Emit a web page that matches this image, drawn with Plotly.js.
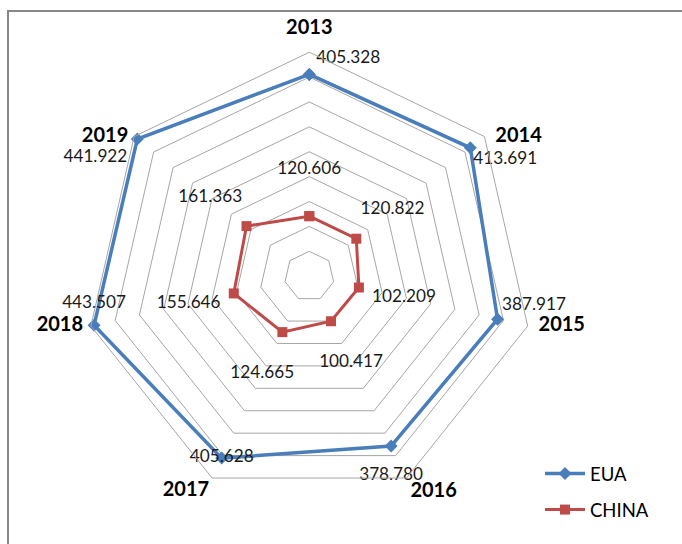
<!DOCTYPE html>
<html>
<head>
<meta charset="utf-8">
<script src="https://cdn.plot.ly/plotly-3.0.1.min.js"></script>
<style>html,body{margin:0;padding:0;background:#fff;}#chart{width:682px;height:544px;}</style>
</head>
<body>
<div id="chart"></div>
<script>
// ---- data ----
const years = ['2013', '2014', '2015', '2016', '2017', '2018', '2019'];
const euaValues = [405.328, 413.691, 387.917, 378.780, 405.628, 443.507, 441.922];
const chinaValues = [120.606, 120.822, 102.209, 100.417, 124.665, 155.646, 161.363];
const seriesNames = ['EUA', 'CHINA'];

// ---- styling ----
const W = 682, H = 544;
const cx = 309.3, cy = 276.2, R = 224;
const rMax = 450;
const fmt = v => v.toFixed(3);
const FONT = 'Lato, "Open Sans", sans-serif';
const labelFont = {family: FONT, size: 17.2, color: '#1a1a1a'};
const euaPos = ['top right', 'bottom right', 'top right', 'bottom center', 'middle center', 'top center', 'bottom left'];
const euaLabelGap = [9.6, 3.2, 5.6, 32, 10, 19.2, 14.4];     // invisible marker sizes setting label gaps
const catPos = ['top center', 'middle right', 'middle right', 'bottom right', 'bottom left', 'middle left', 'middle left'];
const catLabelGap = [20, 16, 16, 4.8, 3.2, 11.2, 8];
const chinaLabelOffset = 93;      // radial units beyond each point

const closeArr = a => a.concat([a[0]]);
const dom = {x: [(cx - R) / W, (cx + R) / W], y: [(H - cy - R) / H, (H - cy + R) / H]};

const traces = [
  {
    type: 'scatterpolar', name: seriesNames[0], legendgroup: 'a',
    r: closeArr(euaValues), theta: closeArr(years),
    mode: 'lines+markers',
    line: {color: '#4a7ebb', width: 3.5},
    marker: {symbol: 'diamond', size: 10, color: '#4a7ebb'},
    hoverinfo: 'skip'
  },
  {
    type: 'scatterpolar', name: seriesNames[1], legendgroup: 'b',
    r: closeArr(chinaValues), theta: closeArr(years),
    mode: 'lines+markers',
    line: {color: '#be4b48', width: 3},
    marker: {symbol: 'square', size: 10, color: '#be4b48'},
    hoverinfo: 'skip'
  },
  {
    type: 'scatterpolar', showlegend: false,
    r: euaValues, theta: years, mode: 'markers+text',
    marker: {size: euaLabelGap, opacity: 0},
    text: euaValues.map(fmt), textposition: euaPos,
    textfont: labelFont, cliponaxis: false, hoverinfo: 'skip'
  },
  {
    type: 'scatterpolar', showlegend: false,
    r: chinaValues.map(v => v + chinaLabelOffset), theta: years, mode: 'text',
    text: chinaValues.map(fmt), textposition: 'middle center',
    textfont: labelFont, cliponaxis: false, hoverinfo: 'skip'
  },
  {
    // category labels anchored at the outer ring's vertices (overlay subplot, same geometry)
    type: 'scatterpolar', subplot: 'polar2', showlegend: false,
    r: years.map(() => rMax), theta: years, mode: 'markers+text',
    marker: {size: catLabelGap, opacity: 0},
    text: years, textposition: catPos,
    textfont: {family: FONT, size: 20, color: '#000', weight: 'bold'},
    cliponaxis: false, hoverinfo: 'skip'
  }
];

const layout = {
  width: W, height: H,
  margin: {l: 0, r: 0, t: 0, b: 0, pad: 0},
  paper_bgcolor: '#ffffff',
  showlegend: true,
  legend: {
    x: 540 / W, y: (H - 455) / H, xanchor: 'left', yanchor: 'top',
    font: {family: FONT, size: 18.5, color: '#000'},
    traceorder: 'grouped', tracegroupgap: 9,
    itemwidth: 40, bgcolor: 'rgba(0,0,0,0)'
  },
  polar: {
    domain: dom,
    gridshape: 'linear',
    bgcolor: '#ffffff',
    radialaxis: {
      range: [0, rMax], dtick: 50, tick0: 0,
      showticklabels: false, ticks: '', showline: false,
      gridcolor: '#a6a6a6', gridwidth: 1
    },
    angularaxis: {
      type: 'category', categoryarray: years,
      rotation: 90, direction: 'clockwise',
      showgrid: false, showline: true, linecolor: '#a6a6a6', linewidth: 1,
      ticks: '', showticklabels: false
    }
  },
  polar2: {
    domain: dom,
    gridshape: 'linear',
    bgcolor: 'rgba(0,0,0,0)',
    radialaxis: {range: [0, rMax * 1.0005], visible: false},
    angularaxis: {
      type: 'category', categoryarray: years,
      rotation: 90, direction: 'clockwise', visible: false
    }
  },
  shapes: [{
    type: 'rect', xref: 'paper', yref: 'paper',
    x0: 8 / W, x1: 1.05, y0: -0.05, y1: (H - 11) / H,
    line: {color: '#878787', width: 2}, fillcolor: 'rgba(0,0,0,0)', layer: 'above'
  }]
};

Plotly.newPlot('chart', traces, layout, {staticPlot: true, displayModeBar: false});
</script>
</body>
</html>
